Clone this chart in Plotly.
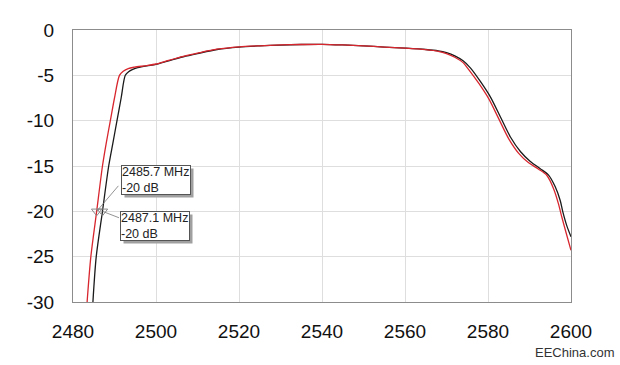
import plotly.graph_objects as go

# Frequency (MHz) and response (dB) — black trace
black_freq = [2484.8, 2485.6, 2487.1, 2488.6, 2489.6, 2490.6, 2491.6, 2492.6, 2493.4, 2494.4,
              2495.6, 2497.8, 2500.0, 2503.0, 2506.6, 2510.0, 2514.7, 2520.0, 2525.0, 2530.0,
              2535.0, 2540.0, 2545.0, 2550.0, 2555.0, 2560.0, 2565.0, 2568.0, 2570.0, 2572.0,
              2574.0, 2575.8, 2578.2, 2580.6, 2583.0, 2585.4, 2587.8, 2590.2, 2592.6, 2594.6,
              2596.2, 2597.4, 2598.0, 2599.0, 2600.0]
black_db = [-30.0, -25.0, -20.0, -15.0, -12.5, -10.0, -7.5, -5.0, -4.6, -4.35,
            -4.15, -3.95, -3.8, -3.4, -2.95, -2.6, -2.15, -1.88, -1.75, -1.66,
            -1.6, -1.58, -1.65, -1.75, -1.88, -2.0, -2.15, -2.3, -2.5, -2.85,
            -3.4, -4.2, -5.7, -7.4, -9.6, -11.8, -13.4, -14.5, -15.3, -16.0,
            -17.3, -18.8, -20.0, -21.6, -22.8]

# Red trace
red_freq = [2483.4, 2484.3, 2485.7, 2487.1, 2488.0, 2489.0, 2490.0, 2491.2, 2492.1, 2493.3,
            2494.8, 2497.8, 2500.0, 2503.0, 2506.6, 2510.0, 2514.7, 2520.0, 2525.0, 2530.0,
            2535.0, 2540.0, 2545.0, 2550.0, 2555.0, 2560.0, 2565.0, 2568.0, 2570.0, 2572.0,
            2574.0, 2575.4, 2577.8, 2580.2, 2582.6, 2585.0, 2587.4, 2589.8, 2592.2, 2594.2,
            2595.8, 2597.0, 2597.6, 2598.6, 2600.0]
red_db = [-30.0, -25.0, -20.0, -15.0, -12.5, -10.0, -7.5, -5.0, -4.55, -4.25,
          -4.1, -3.92, -3.75, -3.35, -2.9, -2.55, -2.12, -1.86, -1.74, -1.65,
          -1.6, -1.58, -1.65, -1.75, -1.88, -2.0, -2.17, -2.35, -2.6, -3.0,
          -3.6, -4.4, -5.9, -7.6, -9.8, -12.0, -13.6, -14.65, -15.35, -16.05,
          -17.5, -19.2, -20.3, -22.0, -24.3]

# Markers at -20 dB
marker_freq = [2485.7, 2487.1]
marker_db = [-20, -20]
marker_labels = ["2485.7 MHz<br>-20 dB", "2487.1 MHz<br>-20 dB"]

x_ticks = [2480, 2500, 2520, 2540, 2560, 2580, 2600]
y_ticks = [0, -5, -10, -15, -20, -25, -30]
y_tick_text = ["0", "-5", "-10", "-15", "-20", "-25", "-30"]

fig = go.Figure()
fig.add_trace(go.Scatter(x=black_freq, y=black_db, mode="lines",
                         line=dict(color="#1a1a1a", width=1.3, shape="spline", smoothing=0.8),
                         showlegend=False))
fig.add_trace(go.Scatter(x=red_freq, y=red_db, mode="lines",
                         line=dict(color="#d8262e", width=1.3, shape="spline", smoothing=0.8),
                         showlegend=False))
fig.add_trace(go.Scatter(x=marker_freq, y=marker_db, mode="markers",
                         marker=dict(symbol="triangle-down-open", size=9, color="#8a8a8a",
                                     line=dict(width=1)),
                         showlegend=False))

# Marker annotation boxes: pixel offsets relative to each marker
box_offsets = [(24, 31), (18, -15)]      # (xshift, yshift) of box left-middle
conn_offsets = [(23, -27), (18, 7)]      # connector end (ax, ay) relative to marker
for fx, fy, lbl, (bx, by), (cx, cy) in zip(marker_freq, marker_db, marker_labels, box_offsets, conn_offsets):
    fig.add_annotation(x=fx, y=fy, xref="x", yref="y", text="", showarrow=True,
                       arrowhead=0, arrowwidth=0.8, arrowcolor="#777777",
                       ax=cx, ay=cy, standoff=0, startstandoff=0)
    fig.add_annotation(x=fx, y=fy, xref="x", yref="y", text=" ", showarrow=False,
                       xshift=bx + 3, yshift=by - 3, width=68, height=28,
                       bgcolor="#a0a0a0", borderpad=0, xanchor="left", yanchor="middle")
    fig.add_annotation(x=fx, y=fy, xref="x", yref="y", text=lbl, showarrow=False,
                       xshift=bx, yshift=by, width=68, height=28, align="left",
                       bgcolor="white", bordercolor="#555555", borderwidth=1, borderpad=0,
                       xanchor="left", yanchor="middle",
                       font=dict(family="Liberation Sans, Arial", size=12.5, color="#222222"))

fig.add_annotation(x=1.09, y=-0.184, xref="paper", yref="paper", text="EEChina.com",
                   showarrow=False, xanchor="right", yanchor="middle",
                   font=dict(family="Liberation Sans Narrow, Liberation Sans, Arial", size=13, color="#333333"))

fig.update_layout(
    width=620, height=365,
    margin=dict(l=73, r=49, t=30, b=63, autoexpand=False),
    paper_bgcolor="white", plot_bgcolor="white",
    font=dict(family="Liberation Sans, Arial", size=19, color="#111111"),
)
fig.update_xaxes(range=[2480, 2600], tickvals=x_ticks, showgrid=True, gridcolor="#dedede",
                 gridwidth=1, showline=True, linecolor="#8c8c8c", linewidth=1, mirror=True,
                 zeroline=False, ticks="", ticklabelstandoff=12, automargin=False)
fig.update_yaxes(range=[-30, 0], tickvals=y_ticks, ticktext=y_tick_text, showgrid=True,
                 gridcolor="#dedede", gridwidth=1, showline=True, linecolor="#8c8c8c",
                 linewidth=1, mirror=True, zeroline=False, ticks="", ticklabelstandoff=14,
                 automargin=False)

fig.write_html("out.html", config={"displayModeBar": False},
               post_script="document.body.style.margin='0px';document.body.style.overflow='hidden';")
